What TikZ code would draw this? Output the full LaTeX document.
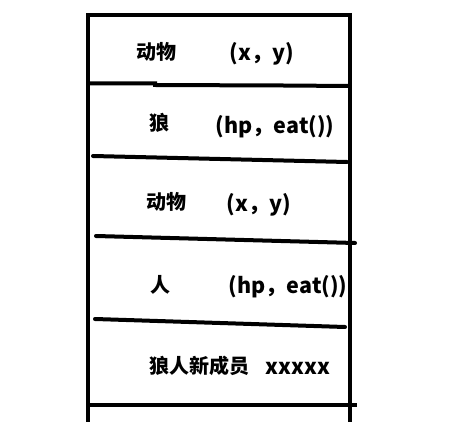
\documentclass[tikz,border=0pt]{standalone}
\usepackage{fontspec}
\newfontfamily\cjk{Noto Sans CJK SC Black}
\begin{document}
\begin{tikzpicture}[x=1pt,y=-1pt,
  stroke/.style={line width=4pt,black},
  lbl/.style={font=\cjk\fontsize{20}{24}\selectfont,inner sep=0pt,anchor=center},
  lat/.style={lbl,font=\cjk\fontsize{21.5}{24}\selectfont}]
\useasboundingbox (0,0) rectangle (466,422);
% frame
\draw[stroke] (88,15) -- (88,430);
\draw[stroke] (349.5,13) -- (349.5,430);
\draw[stroke] (86,15) -- (351.5,15);
% separators (hand drawn)
\draw[stroke] (88,83.5) -- (155,83.5) -- (155,85) -- (283,85.5) -- (349,86);
\draw[stroke,line cap=round] (93,156) -- (347,162);
\draw[stroke,line cap=round] (96,236) -- (355,243);
\draw[stroke,line cap=round] (95,319) -- (345,327);
\draw[stroke] (86,405) -- (357,405);
% texts
\node[lbl] (a1) at (156,52) {动物};
\node[lat] (a1v) at (262,54) {(x，y)};
\node[lbl] (w) at (159,123) {狼};
\node[lat] (wv) at (275,127) {(hp，eat())};
\node[lbl] (a2) at (166,202) {动物};
\node[lat] (a2v) at (259,205) {(x，y)};
\node[lbl] (h) at (160,285) {人};
\node[lat] (hv) at (288,287) {(hp，eat())};
\node[lbl] (n) at (199,366) {狼人新成员};
\node[lat] (nv) at (298,368) {xxxxx};
\end{tikzpicture}
\end{document}
